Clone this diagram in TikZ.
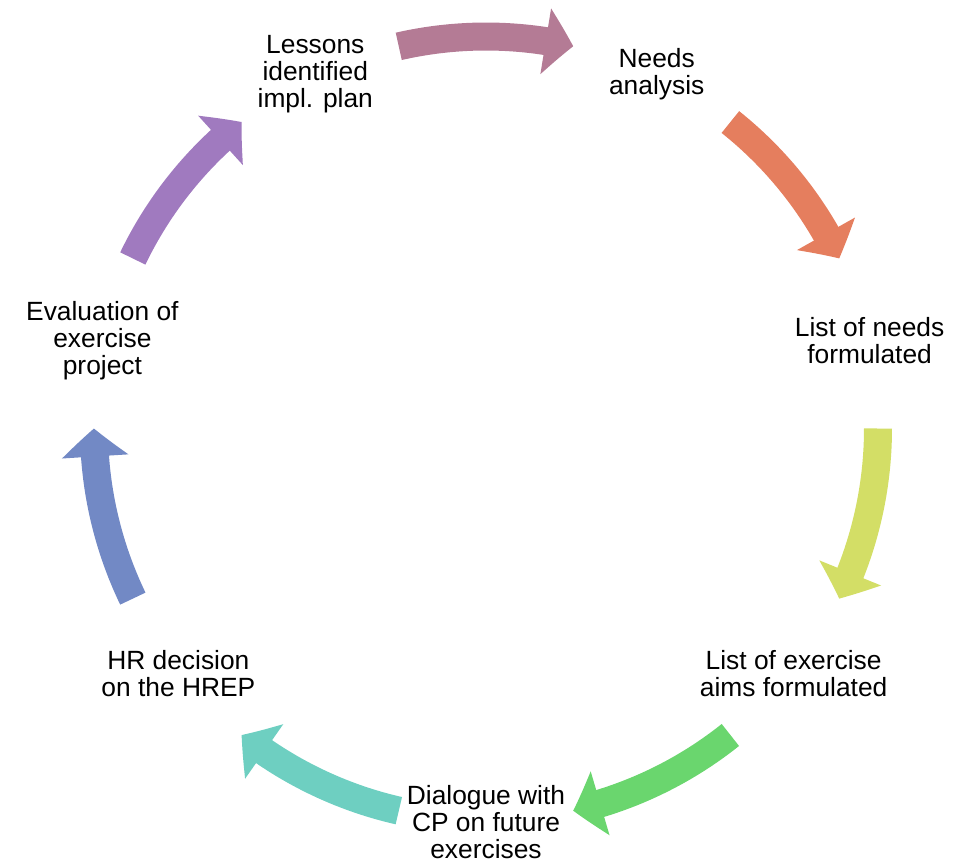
\documentclass[tikz,border=0pt]{standalone}
\usepackage{fontspec}
\setmainfont{Liberation Sans}
\usetikzlibrary{arrows.meta,bending}

\definecolor{cycmauve}{HTML}{B47B95}
\definecolor{cycorange}{HTML}{E57E5E}
\definecolor{cyclime}{HTML}{D3DE66}
\definecolor{cycgreen}{HTML}{6AD66E}
\definecolor{cycteal}{HTML}{6ECFC1}
\definecolor{cycblue}{HTML}{7289C5}
\definecolor{cycpurple}{HTML}{A07ABF}

\begin{document}
\begin{tikzpicture}[every node/.style={font=\fontsize{15}{15.3}\selectfont, align=center, inner sep=0pt, yshift=-0.03cm},
    cycarrow/.style={line width=0.56cm, line cap=butt, -{Triangle[width=1.3cm, length=0.56cm, bend]}}]
        \useasboundingbox (-9.72,-8.68) rectangle (9.70,8.54);
        % stages, clockwise from the top right
        \node (needs)      at (64.29:7.87)   {Needs\\analysis};
        \node (listneeds)  at (12.86:7.87)   {List of needs\\formulated};
        \node (aims)       at (-38.57:7.87)  {List of exercise\\aims formulated};
        \node (dialogue)   at (-90:7.87)     {Dialogue with\\CP on future\\exercises};
        \node (hr)         at (-141.43:7.87) {HR decision\\on the HREP};
        \node (evaluation) at (-192.86:7.87) {Evaluation of\\exercise\\project};
        \node (lessons)    at (115.71:7.87)  {Lessons\\identified\\impl. plan};
        \foreach \i/\a/\c in {1/90/cycmauve, 2/38.57/cycorange, 3/-12.86/cyclime, 4/-64.29/cycgreen,
                              5/-115.71/cycteal, 6/-167.14/cycblue, 7/141.43/cycpurple}
        {
            \coordinate (tail\i) at (\a+12.86:7.84);
            \draw[cycarrow, draw=\c, fill=\c] (tail\i) arc[start angle=\a+12.86, end angle=\a-12.86, radius=7.84];
        }
    \end{tikzpicture}
\end{document}
